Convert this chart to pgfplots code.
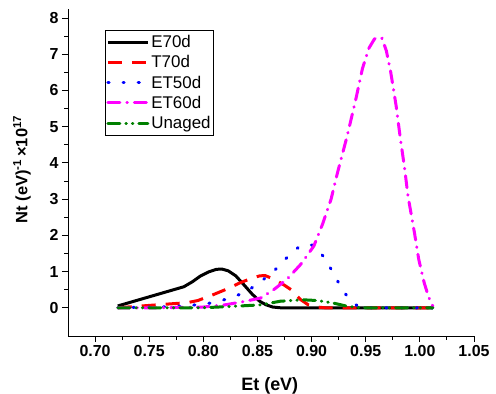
\documentclass[border=0pt]{standalone}
\usepackage{fontspec}
\setmainfont{Liberation Sans}
\usepackage{pgfplots}
\pgfplotsset{compat=1.18}
\definecolor{dgreen}{RGB}{0,128,0}
\definecolor{mag}{RGB}{255,0,255}
\begin{document}
\begin{tikzpicture}
\useasboundingbox (-68bp,-58bp) rectangle (428bp,336bp);
\begin{axis}[
  scale only axis, width=406bp, height=327bp,
  xmin=0.675, xmax=1.05, ymin=-0.78, ymax=8.25,
  axis x line*=bottom, axis y line*=left,
  axis line style={-, line width=1pt},
  tick align=outside,
  major tick length=6bp, minor tick length=3.5bp,
  every tick/.style={black, line width=1pt},
  xtick={0.70,0.75,...,1.051}, minor x tick num=1,
  ytick={0,1,...,8}, minor y tick num=1,
  /pgf/number format/assume math mode=true,
  xticklabel style={/pgf/number format/.cd, fixed, fixed zerofill, precision=2},
  tick label style={font=\bfseries\fontsize{16}{16}\selectfont},
  xlabel={Et (eV)},
  ylabel={Nt (eV)\textsuperscript{-1}\,×10\textsuperscript{17}},
  xlabel style={font=\bfseries\fontsize{18}{18}\selectfont, at={(axis description cs:0.497,-0.153)}, anchor=center},
  ylabel style={font=\bfseries\fontsize{16.5}{16.5}\selectfont, at={(axis description cs:-0.113,0.51)}, anchor=center},
  legend style={at={(rel axis cs:0.091,0.936)}, anchor=north west,
    font=\fontsize{17}{20}\selectfont, draw=black, line width=0.8pt,
    inner xsep=1pt, inner ysep=3pt, row sep=2.5bp},
  legend cell align=left,
  legend image code/.code={\draw[#1] (0bp,0bp) -- (40bp,0bp);},
  every axis plot/.append style={line width=3bp},
]
\addplot[black, line join=round] coordinates {
(0.721,0.05) (0.782,0.58) (0.790,0.72) (0.797,0.87) (0.805,0.99) (0.812,1.06) (0.817,1.07) (0.823,1.02) (0.830,0.88) (0.837,0.65) (0.845,0.38) (0.852,0.18) (0.858,0.08) (0.864,0.02) (0.871,0.0) (1.012,0.0)};
\addlegendentry{E70d}
\addplot[red, dash pattern=on 14bp off 10bp] coordinates {
(0.721,0.0) (0.757,0.08) (0.785,0.14) (0.795,0.2) (0.809,0.36) (0.822,0.52) (0.834,0.69) (0.845,0.82) (0.852,0.88) (0.857,0.89) (0.866,0.78) (0.875,0.62) (0.881,0.5) (0.890,0.22) (0.897,0.08) (0.905,0.02) (0.912,0.0) (1.012,0.0)};
\addlegendentry{T70d}
\addplot[blue, line cap=round, dash pattern=on 1.2bp off 14bp] coordinates {
(0.721,0.0) (0.77,0.03) (0.79,0.07) (0.807,0.13) (0.823,0.25) (0.839,0.43) (0.852,0.7) (0.864,0.98) (0.876,1.35) (0.889,1.70) (0.896,1.75) (0.902,1.72) (0.912,1.38) (0.920,0.96) (0.9275,0.55) (0.935,0.22) (0.942,0.06) (0.948,0.0) (1.012,0.0)};
\addlegendentry{ET50d}
\addplot[mag, line cap=round, dash pattern=on 12bp off 7bp on 0.5bp off 7bp] coordinates {
(0.721,0.0) (0.76,0.0) (0.80,0.02) (0.82,0.08) (0.839,0.18) (0.853,0.27) (0.865,0.5) (0.877,0.78) (0.890,1.2) (0.902,1.70) (0.910,2.3) (0.918,3.0) (0.924,3.74) (0.933,4.76) (0.941,5.78) (0.947,6.61) (0.953,7.17) (0.958,7.42) (0.961,7.47) (0.965,7.44) (0.969,7.1) (0.973,6.52) (0.978,5.59) (0.982,4.67) (0.986,3.83) (0.989,3.09) (0.995,2.07) (0.999,1.33) (1.004,0.69) (1.008,0.3) (1.012,0.04)};
\addlegendentry{ET60d}
\addplot[dgreen, line cap=round, dash pattern=on 12bp off 6bp on 0.5bp off 6bp on 0.5bp off 6bp] coordinates {
(0.721,0.0) (0.80,0.0) (0.828,0.04) (0.853,0.08) (0.871,0.18) (0.892,0.22) (0.905,0.2) (0.92,0.13) (0.933,0.04) (0.945,0.0) (1.012,0.0)};
\addlegendentry{Unaged}
\end{axis}
\end{tikzpicture}
\end{document}
